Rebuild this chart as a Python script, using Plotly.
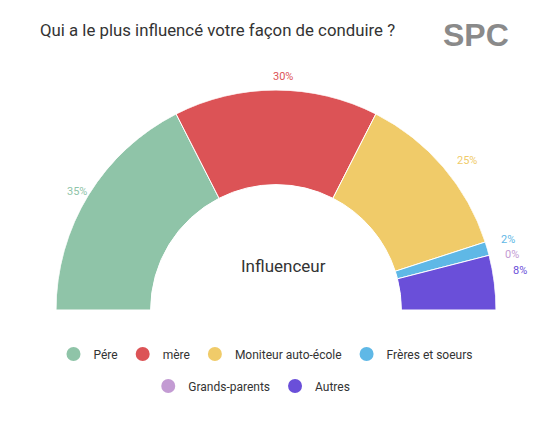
import math
import plotly.graph_objects as go

labels = ["Pére", "mère", "Moniteur auto-école", "Frères et soeurs", "Grands-parents", "Autres"]
values = [35, 30, 25, 2, 0, 8]
colors = ["#8fc4a8", "#dc5356", "#f0cb69", "#5fb8e6", "#c39bd3", "#6a4fd9"]
# small slices get their labels nudged so they do not overlap
label_shift = [0, 0, 0, 3, 1, 4]

W, H = 549, 431
CX, CY, R = 275, 310, 220
DX, DY = 7, 8  # plotly offsets the polar subplot slightly

fig = go.Figure()
total = sum(values)
cum = 0
annotations = []
for i, (lab, v, c, sh) in enumerate(zip(labels, values, colors, label_shift)):
    mid = 180 - (cum + v / 2) / total * 180
    cum += v
    fig.add_trace(go.Barpolar(r=[0.43], base=[0.57], theta=[mid], width=[v / total * 180],
                              marker=dict(color=c, line=dict(color="white", width=1)),
                              showlegend=False, hoverinfo="skip"))
    a = math.radians(mid + sh)
    rr = R + 22 if v > 5 or i < 3 else R + 18
    px_ = CX + rr * math.cos(a)
    py_ = CY - rr * math.sin(a)
    annotations.append(dict(text=f"{v}%", x=px_ / W, y=1 - py_ / H, xref="paper", yref="paper",
                            xanchor="center", yanchor="middle", showarrow=False,
                            font=dict(color=c, size=11)))
    fig.add_trace(go.Scatter(x=[None], y=[None], mode="markers", name=lab,
                             legend="legend" if i < 4 else "legend2",
                             marker=dict(color=c, size=14, symbol="circle")))

leg = dict(orientation="h", xanchor="center", yanchor="middle",
           font=dict(size=12, color="#333"), itemwidth=30)
fig.update_layout(
    width=W, height=H, margin=dict(l=0, r=0, t=0, b=0),
    paper_bgcolor="white", plot_bgcolor="white",
    font=dict(family="Roboto", color="#333"),
    polar=dict(domain=dict(x=[(CX - R - DX) / W, (CX + R - DX) / W],
                           y=[1 - (CY - DY) / H, 1 - (CY - R - DY) / H]),
               sector=[0, 180], hole=0, bgcolor="white",
               radialaxis=dict(range=[0, 1], visible=False),
               angularaxis=dict(visible=False)),
    xaxis=dict(visible=False), yaxis=dict(visible=False),
    legend=dict(leg, x=0.469, y=1 - 346 / H),
    legend2=dict(leg, x=0.444, y=1 - 378 / H),
    annotations=annotations + [
        dict(text="Qui a le plus influencé votre façon de conduire ?", x=30 / W, y=1 - 22 / H,
             xref="paper", yref="paper", xanchor="left", yanchor="middle", showarrow=False,
             font=dict(size=16.8, color="#333")),
        dict(text="<b>SPC</b>", x=468 / W, y=1 - 27 / H, xref="paper", yref="paper",
             xanchor="center", yanchor="middle", showarrow=False,
             font=dict(size=32, color="#8a8a8a", family="Liberation Sans")),
        dict(text="Influenceur", x=CX / W, y=1 - 258 / H, xref="paper", yref="paper",
             showarrow=False, font=dict(size=17, color="#333")),
    ],
)
fig.write_html("out.html")
